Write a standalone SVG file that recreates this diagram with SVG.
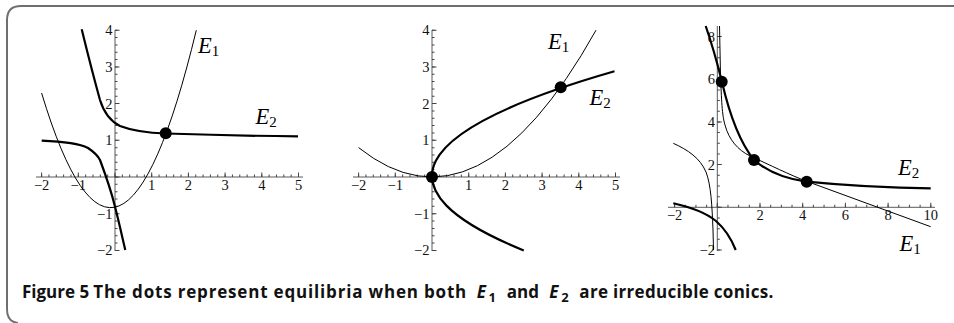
<svg xmlns="http://www.w3.org/2000/svg" width="954" height="323" viewBox="0 0 954 323">
<style>
.axis{stroke:#5a5a5a;stroke-width:1;fill:none}
.tk{stroke:#444;fill:none}
.mn{stroke-width:2.5;stroke-dasharray:1 6.34}
.mj{stroke-width:4.5;stroke-dasharray:1 35.7}
.mn3{stroke-width:2.5;stroke-dasharray:1 9.675}
.mj3{stroke-width:4.5;stroke-dasharray:1 41.7}
.thin{stroke:#000;stroke-width:1;fill:none}
.thick{stroke:#000;stroke-width:2.2;fill:none}
.dot{fill:#000}
.num{font-family:"Liberation Serif","Times New Roman",serif;font-size:14.5px;fill:#111}
.xl{text-anchor:middle}
.yl{text-anchor:end}
.lab{font-family:"Liberation Serif","Times New Roman",serif;font-size:22.5px;font-style:italic;fill:#000}
.sub{font-style:normal;font-size:15px}
.cap{font-family:"Open Sans","Noto Sans","Liberation Sans",sans-serif;font-weight:bold;font-size:17px;fill:#111}
</style>
<rect width="954" height="323" fill="#fff"/>
<path id="frame" d="M954,6 H21 Q7,6 7,20 V309 Q7,322 18,323" fill="none" stroke="#6f6f6f" stroke-width="2"/>

<g id="plot1">
<line class="axis" x1="36" y1="177" x2="303" y2="177"/>
<line class="axis" x1="115" y1="30" x2="115" y2="251"/>
<line class="tk mn" x1="41.1" y1="175.75" x2="299.5" y2="175.75"/>
<line class="tk mj" x1="41.1" y1="174.75" x2="299.5" y2="174.75"/>
<line class="tk mn" x1="116.25" y1="250.9" x2="116.25" y2="29.7"/>
<line class="tk mj" x1="117.25" y1="250.9" x2="117.25" y2="29.7"/>
<g class="num xl">
<text x="41.6" y="190">−2</text><text x="78.3" y="190">−1</text><text x="151.7" y="190">1</text><text x="188.4" y="190">2</text><text x="225.1" y="190">3</text><text x="261.8" y="190">4</text><text x="298.5" y="190">5</text>
</g>
<g class="num yl">
<text x="112.5" y="35.2">4</text><text x="112.5" y="71.9">3</text><text x="112.5" y="108.6">2</text><text x="112.5" y="145.3">1</text><text x="112.5" y="218.7">−1</text><text x="112.5" y="255.4">−2</text>
</g>
<path id="p1-e1" class="thin" d="M41.6,93 Q119,350.3 196.3,30.2"/>
<path id="p1-e2a" class="thick" d="M81.7,29.3 C88,55 95,82 100,100 C104,113 110,121 120,126 C133,131 150,133 166,133.5 C210,135 260,136 298,136.3"/>
<path id="p1-e2b" class="thick" d="M41.7,140.7 C60,141.5 78,143 88,148 C94,152 98,156 100,160 C103,168 111,190 115,206.7 C119,222 122,236 125.3,250"/>
<circle class="dot" cx="165.7" cy="133.3" r="6"/>
<text class="lab" x="198" y="52.7">E<tspan class="sub" dy="3">1</tspan></text>
<text class="lab" x="255.5" y="124">E<tspan class="sub" dy="3">2</tspan></text>
</g>

<g id="plot2">
<line class="axis" x1="353" y1="177" x2="620" y2="177"/>
<line class="axis" x1="432" y1="30" x2="432" y2="251"/>
<line class="tk mn" x1="358.1" y1="175.75" x2="616.5" y2="175.75"/>
<line class="tk mj" x1="358.1" y1="174.75" x2="616.5" y2="174.75"/>
<line class="tk mn" x1="433.25" y1="250.9" x2="433.25" y2="29.7"/>
<line class="tk mj" x1="434.25" y1="250.9" x2="434.25" y2="29.7"/>
<g class="num xl">
<text x="358.6" y="190">−2</text><text x="395.3" y="190">−1</text><text x="468.7" y="190">1</text><text x="505.4" y="190">2</text><text x="542.1" y="190">3</text><text x="578.8" y="190">4</text><text x="615.5" y="190">5</text>
</g>
<g class="num yl">
<text x="429.5" y="35.2">4</text><text x="429.5" y="71.9">3</text><text x="429.5" y="108.6">2</text><text x="429.5" y="145.3">1</text><text x="429.5" y="218.7">−1</text><text x="429.5" y="255.4">−2</text>
</g>
<path id="p2-e1" class="thin" d="M358.6,147.6 Q477.3,242.6 596,30.2"/>
<path id="p2-e2" class="thick" d="M523.75,250.4 Q302.6,160.85 614.5,71.3"/>
<circle class="dot" cx="432" cy="177" r="6"/>
<circle class="dot" cx="560.7" cy="87.3" r="6"/>
<text class="lab" x="548" y="49.3">E<tspan class="sub" dy="3">1</tspan></text>
<text class="lab" x="589.5" y="105">E<tspan class="sub" dy="3">2</tspan></text>
</g>

<g id="plot3">
<line class="axis" x1="668" y1="207.3" x2="935" y2="207.3"/>
<line class="axis" x1="717.3" y1="26" x2="717.3" y2="251"/>
<line class="tk mn3" x1="674.1" y1="206.05" x2="931.5" y2="206.05"/>
<line class="tk mj3" x1="674.1" y1="205.05" x2="931.5" y2="205.05"/>
<line class="tk mn3" x1="718.55" y1="250.5" x2="718.55" y2="30"/>
<line class="tk mj3" x1="719.55" y1="250.5" x2="719.55" y2="30"/>
<g class="num xl">
<text x="674.6" y="220">−2</text><text x="760" y="220">2</text><text x="802.7" y="220">4</text><text x="845.4" y="220">6</text><text x="888.1" y="220">8</text><text x="930.8" y="220">10</text>
</g>
<g class="num yl">
<text x="715" y="41.5">8</text><text x="715" y="84.2">6</text><text x="715" y="126.9">4</text><text x="715" y="169.6">2</text><text x="715" y="255">−2</text>
</g>
<path id="p3-e1a" class="thin" d="M719.5,26 L720.5,75 C721.5,100 722,115 725,125 C729,140 738,150 750,156 C770,165 790,175 806.7,181.3 L930.7,226.7"/>
<path id="p3-e1b" class="thin" d="M673.3,143.3 C688,150 700,158 706,172 C711,185 712,205 713,230 L713.5,250"/>
<path id="p3-e2a" class="thick" d="M705.7,26 C712,44 718,66 722,82 C728,108 738,140 754,160 C768,172 786,179 806.7,181.7 C850,186 890,188 930.7,188.3"/>
<path id="p3-e2b" class="thick" d="M673.3,203.3 C690,207 706,213 716,221 C724,228 731,238 735.7,250"/>
<circle class="dot" cx="721.7" cy="81.7" r="6"/>
<circle class="dot" cx="754" cy="160" r="6"/>
<circle class="dot" cx="806.7" cy="181.7" r="6"/>
<text class="lab" x="898" y="175">E<tspan class="sub" dy="3">2</tspan></text>
<text class="lab" x="899.5" y="251">E<tspan class="sub" dy="3">1</tspan></text>
</g>

<g id="caption">
<text class="cap" y="298"><tspan x="22">Figure 5</tspan><tspan x="93.3" textLength="373" lengthAdjust="spacing">The dots represent equilibria when both</tspan><tspan x="476.7" font-style="italic">E</tspan><tspan x="488.5" dy="4" font-size="13">1</tspan><tspan x="506.7" dy="-4">and</tspan><tspan x="549.3" font-style="italic">E</tspan><tspan x="561.2" dy="4" font-size="13">2</tspan><tspan x="579.3" dy="-4" textLength="194" lengthAdjust="spacing">are irreducible conics.</tspan></text>
</g>
</svg>
